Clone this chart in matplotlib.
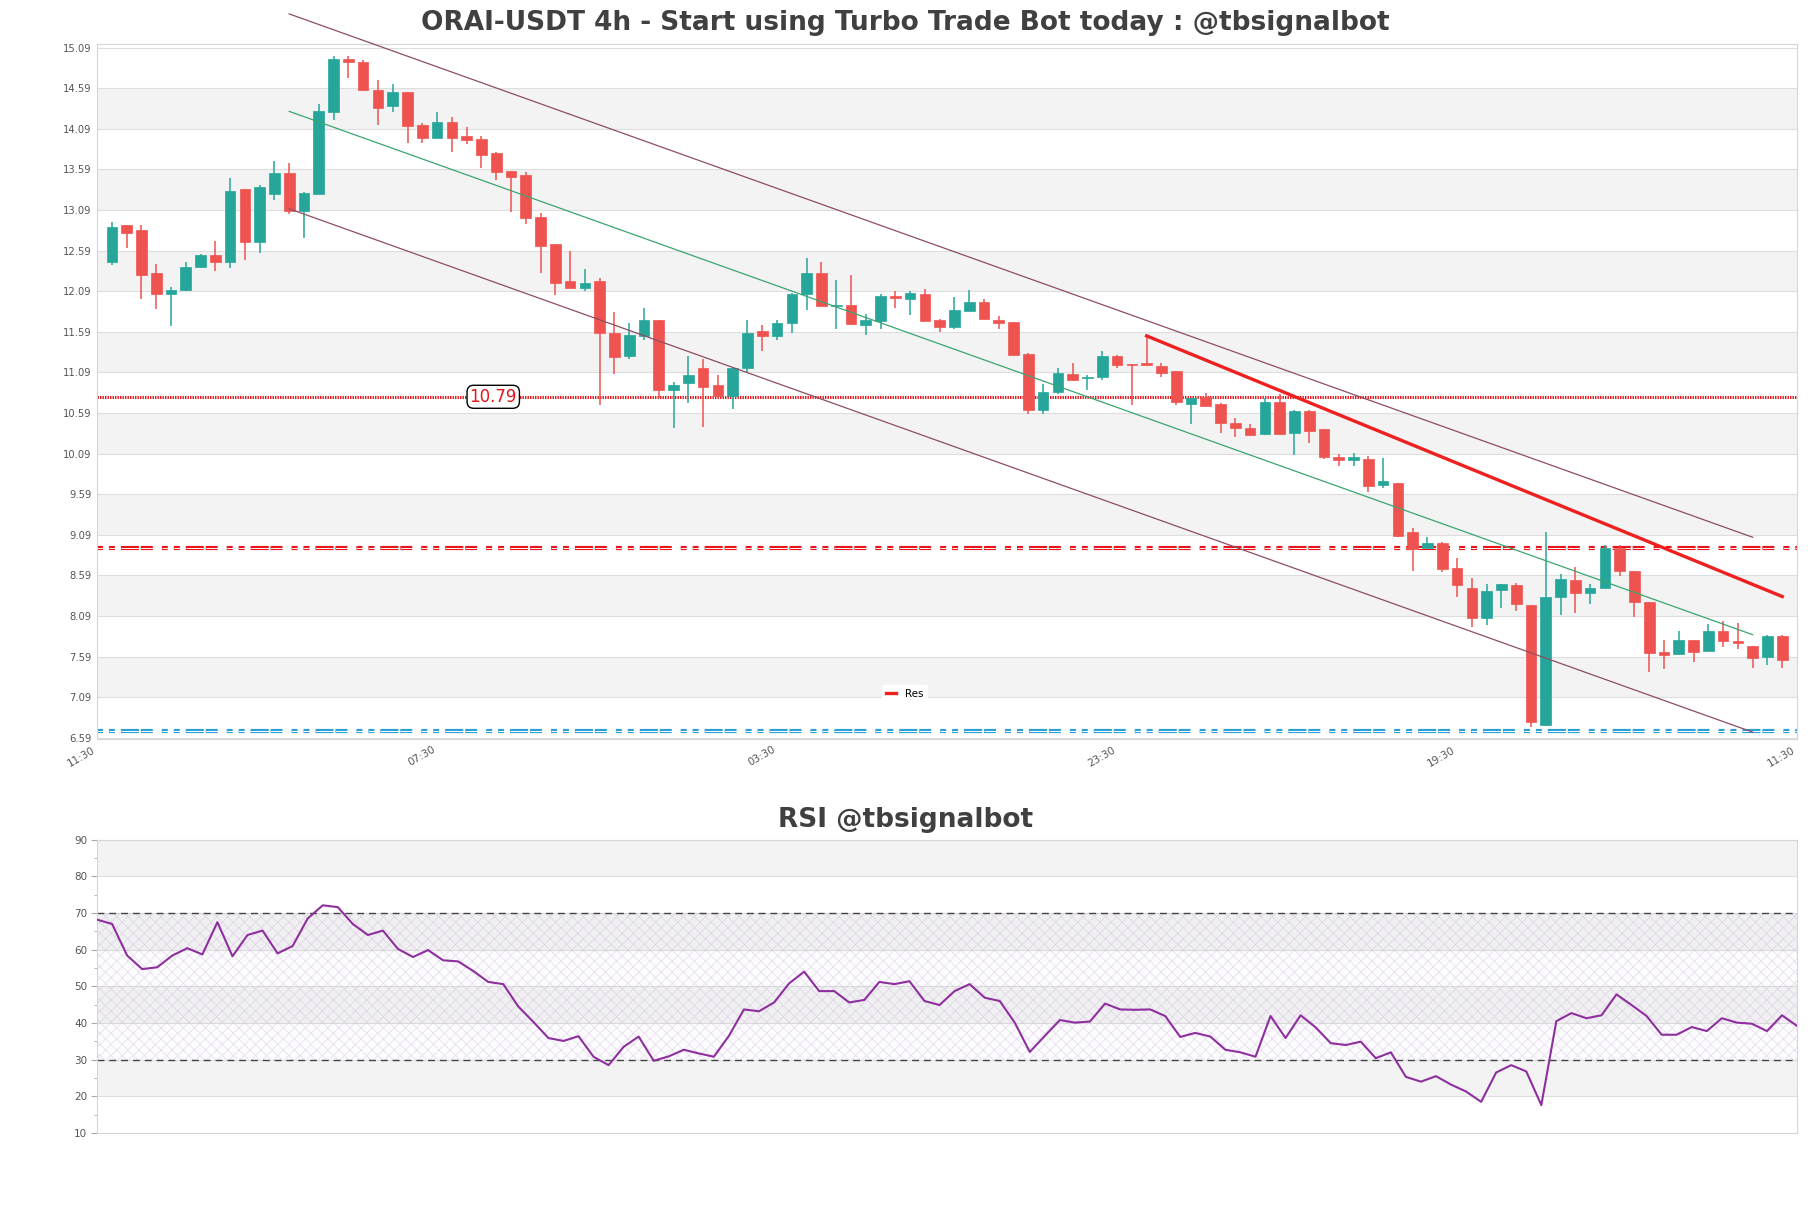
import numpy as np
import matplotlib
matplotlib.use("Agg")
import matplotlib.pyplot as plt
from matplotlib.ticker import AutoMinorLocator

plt.rcParams['lines.scale_dashes'] = False
plt.rcParams['hatch.linewidth'] = 0.5

# ---------------- data ----------------
opens = [12.45, 12.90, 12.84, 12.31, 12.06, 12.11, 12.39, 12.54, 12.45, 13.35,
         12.70, 13.29, 13.54, 13.08, 13.29, 14.30, 14.95, 14.91, 14.57, 14.37,
         14.54, 14.14, 13.98, 14.18, 14.00, 13.96, 13.79, 13.57, 13.52, 13.01,
         12.67, 12.21, 12.13, 12.22, 11.57, 11.29, 11.54, 11.74, 10.87, 10.96,
         11.15, 10.94, 10.80, 11.14, 11.60, 11.54, 11.70, 12.06, 12.32, 11.91,
         11.92, 11.68, 11.72, 12.03, 12.00, 12.05, 11.73, 11.65, 11.85, 11.96,
         11.73, 11.71, 11.32, 10.63, 10.85, 11.07, 11.02, 11.03, 11.29, 11.19,
         11.21, 11.17, 11.11, 10.70, 10.79, 10.70, 10.47, 10.40, 10.33, 10.73,
         10.34, 10.61, 10.39, 10.05, 10.01, 10.03, 9.70, 9.73, 9.12, 8.93,
         8.99, 8.68, 8.44, 8.07, 8.41, 8.47, 8.23, 6.75, 8.33, 8.53,
         8.37, 8.44, 8.93, 8.64, 8.26, 7.65, 7.62, 7.79, 7.66, 7.91,
         7.78, 7.72, 7.58, 7.84]
highs = [12.94, 12.91, 12.90, 12.42, 12.14, 12.45, 12.55, 12.71, 13.49, 13.35,
         13.40, 13.69, 13.67, 13.31, 14.40, 14.99, 14.99, 14.94, 14.69, 14.64,
         14.54, 14.16, 14.30, 14.23, 14.11, 14.00, 13.81, 13.57, 13.56, 13.05,
         12.67, 12.58, 12.36, 12.25, 11.83, 11.70, 11.88, 11.74, 10.97, 11.29,
         11.25, 11.06, 11.14, 11.73, 11.68, 11.73, 12.07, 12.50, 12.45, 12.23,
         12.29, 11.81, 12.05, 12.09, 12.09, 12.12, 11.75, 12.02, 12.10, 11.99,
         11.79, 11.71, 11.33, 10.95, 11.15, 11.21, 11.06, 11.36, 11.31, 11.19,
         11.54, 11.21, 11.11, 10.77, 10.84, 10.71, 10.53, 10.46, 10.77, 10.83,
         10.63, 10.63, 10.39, 10.08, 10.10, 10.06, 10.04, 9.73, 9.18, 9.06,
         9.00, 8.81, 8.56, 8.48, 8.49, 8.50, 8.23, 9.13, 8.61, 8.69,
         8.48, 8.97, 8.97, 8.64, 8.26, 7.80, 7.91, 7.79, 7.99, 8.03,
         8.00, 7.72, 7.86, 7.86]
lows = [12.41, 12.62, 12.00, 11.87, 11.66, 12.09, 12.38, 12.34, 12.38, 12.48,
        12.56, 13.21, 13.04, 12.75, 13.29, 14.20, 14.72, 14.56, 14.14, 14.30,
        13.92, 13.92, 13.98, 13.80, 13.90, 13.61, 13.46, 13.06, 12.92, 12.31,
        12.04, 12.13, 12.09, 10.69, 11.07, 11.25, 11.49, 10.77, 10.41, 10.71,
        10.42, 10.79, 10.64, 11.08, 11.36, 11.49, 11.57, 11.86, 11.91, 11.62,
        11.67, 11.55, 11.62, 11.88, 11.80, 11.72, 11.59, 11.63, 11.85, 11.75,
        11.63, 11.30, 10.58, 10.58, 10.83, 10.98, 10.87, 11.00, 11.15, 10.69,
        11.17, 11.03, 10.69, 10.45, 10.67, 10.35, 10.30, 10.32, 10.32, 10.32,
        10.07, 10.22, 10.03, 9.94, 9.94, 9.62, 9.67, 9.06, 8.64, 8.92,
        8.63, 8.33, 7.95, 7.98, 8.19, 8.15, 6.72, 6.74, 8.10, 8.13,
        8.24, 8.44, 8.58, 8.08, 7.40, 7.44, 7.61, 7.52, 7.66, 7.71,
        7.69, 7.45, 7.49, 7.45]
closes = [12.88, 12.81, 12.29, 12.06, 12.11, 12.39, 12.54, 12.45, 13.33, 12.70,
          13.37, 13.54, 13.08, 13.30, 14.31, 14.95, 14.91, 14.57, 14.35, 14.54,
          14.13, 13.98, 14.18, 13.98, 13.95, 13.77, 13.56, 13.50, 12.99, 12.65,
          12.19, 12.13, 12.19, 11.57, 11.28, 11.55, 11.74, 10.87, 10.94, 11.06,
          10.91, 10.80, 11.14, 11.58, 11.54, 11.70, 12.06, 12.31, 11.91, 11.92,
          11.69, 11.73, 12.03, 12.01, 12.07, 11.72, 11.65, 11.86, 11.96, 11.75,
          11.70, 11.31, 10.63, 10.85, 11.08, 11.00, 11.03, 11.29, 11.18, 11.18,
          11.18, 11.08, 10.72, 10.77, 10.68, 10.47, 10.41, 10.32, 10.73, 10.33,
          10.61, 10.37, 10.05, 10.01, 10.05, 9.69, 9.75, 9.08, 8.92, 8.99,
          8.67, 8.47, 8.06, 8.40, 8.48, 8.24, 6.78, 8.33, 8.54, 8.37,
          8.44, 8.93, 8.64, 8.26, 7.64, 7.61, 7.79, 7.65, 7.91, 7.78,
          7.76, 7.57, 7.84, 7.55]

rsi = [68.2, 67.0, 58.4, 54.7, 55.2, 58.4, 60.4, 58.7, 67.5, 58.2,
       64.0, 65.2, 59.0, 61.0, 68.5, 72.1, 71.6, 67.0, 64.0, 65.2,
       60.2, 58.0, 59.9, 57.1, 56.8, 54.2, 51.2, 50.6, 44.5, 40.3,
       35.9, 35.1, 36.4, 30.8, 28.5, 33.5, 36.3, 29.7, 30.9, 32.7,
       31.7, 30.8, 36.5, 43.7, 43.2, 45.6, 50.8, 54.0, 48.7, 48.7,
       45.6, 46.3, 51.2, 50.6, 51.4, 46.0, 44.9, 48.7, 50.6, 46.9,
       46.0, 40.1, 32.1, 36.5, 40.8, 40.1, 40.4, 45.3, 43.7, 43.6,
       43.7, 41.9, 36.2, 37.3, 36.3, 32.7, 32.0, 30.8, 41.9, 35.9,
       42.1, 38.8, 34.5, 34.0, 34.9, 30.4, 32.0, 25.3, 24.0, 25.5,
       23.2, 21.3, 18.5, 26.5, 28.5, 26.8, 17.6, 40.5, 42.7, 41.3,
       42.1, 47.8, 44.9, 41.9, 36.8, 36.8, 38.9, 37.8, 41.3, 40.1,
       39.8, 37.8, 42.1, 39.2]

time_labels = ['11:30', '07:30', '03:30', '23:30', '19:30', '11:30']
time_ticks = [-1, 22, 45, 68, 91, 114]

res_level = 10.79
red_band_level = 8.93
blue_band_level = 6.675

channel_x = [12, 111]
channel_mid = [14.305, 7.86]
channel_width = 1.2
res_line_x = [70, 113]
res_line_y = [11.54, 8.33]

price_ticks = [6.59, 7.09, 7.59, 8.09, 8.59, 9.09, 9.59, 10.09, 10.59, 11.09,
               11.59, 12.09, 12.59, 13.09, 13.59, 14.09, 14.59, 15.09]
rsi_ticks = [10, 20, 30, 40, 50, 60, 70, 80, 90]

# ---------------- figure ----------------
UP = '#26a69a'
DN = '#ef5350'
GRID = '#dedede'
BAND = '#f3f3f3'
TXT = '#555555'

fig = plt.figure(figsize=(18.11, 12.08), dpi=100)
ax = fig.add_axes([0.0536, 0.3882, 0.9387, 0.5754])
ax2 = fig.add_axes([0.0536, 0.0621, 0.9387, 0.2428])

# main panel background bands
for k in range(len(price_ticks) - 1):
    if (len(price_ticks) - 2 - k) % 2 == 1:
        ax.axhspan(price_ticks[k], price_ticks[k + 1], color=BAND, zorder=0, lw=0)
for t in price_ticks:
    ax.axhline(t, color=GRID, lw=0.8, zorder=0.5)

# candles
x = np.arange(len(opens))
o = np.array(opens); c = np.array(closes); h = np.array(highs); l = np.array(lows)
up = c >= o
cols = np.where(up, UP, DN)
ax.vlines(x, l, h, colors=cols, lw=1.1, zorder=3)
bottoms = np.minimum(o, c)
heights = np.maximum(np.abs(c - o), 0.012)
ax.bar(x, heights, bottom=bottoms, width=0.72, color=cols, edgecolor=cols, lw=0.5, zorder=4)

# horizontal levels
ax.axhline(res_level, color='#e3161b', lw=2.2, linestyle=(0, (1.0, 0.8)), zorder=2)
dash = (0, (4.3, 4.3, 4.3, 4.3, 13, 1.4, 8.6, 6.5))
ax.axhline(red_band_level, color='#e8141a', lw=3.0, linestyle=dash, zorder=2)
ax.axhline(red_band_level, color='white', lw=0.7, linestyle=dash, zorder=2.1)
ax.axhline(blue_band_level, color='#2a9fd8', lw=3.0, linestyle=dash, zorder=2)
ax.axhline(blue_band_level, color='white', lw=0.7, linestyle=dash, zorder=2.1)

ax.text(25.8, res_level, '10.79', color='#e3161b', fontsize=12, ha='center', va='center',
        zorder=6, bbox=dict(boxstyle='round,pad=0.15,rounding_size=0.4', fc='white', ec='black', lw=1))

# channel
mid = np.array(channel_mid)
ax.plot(channel_x, mid + channel_width, color='#8d4d62', lw=0.9, zorder=5, clip_on=False)
ax.plot(channel_x, mid, color='#3aa56f', lw=0.9, zorder=5)
ax.plot(channel_x, mid - channel_width, color='#8d4d62', lw=0.9, zorder=5)

# resistance line
ax.plot(res_line_x, res_line_y, color='#ee2020', lw=2.4, zorder=5, label='Res')

leg = ax.legend(loc='center', bbox_to_anchor=(0.475, 0.065), fontsize=7.5, frameon=True,
                handlelength=1.0, borderpad=0.4, handletextpad=0.8)
leg.get_frame().set_edgecolor('white')
leg.get_frame().set_alpha(1)

ax.set_xlim(-1, 114)
ax.set_ylim(6.575, 15.135)
ax.set_yticks(price_ticks)
ax.set_yticklabels(['%.2f' % t for t in price_ticks], fontsize=7.2, color=TXT)
ax.set_xticks(time_ticks)
ax.set_xticklabels(time_labels, rotation=30, ha='right', fontsize=7.5, color=TXT)
ax.tick_params(axis='both', length=0, pad=4)
for s in ax.spines.values():
    s.set_color('#d6d6d6'); s.set_linewidth(0.8)

fig.text(0.5, 1 - 23 / 1208, 'ORAI-USDT 4h - Start using Turbo Trade Bot today : @tbsignalbot',
         ha='center', va='center', fontsize=19, fontweight='bold', color='#404040')

# ---------------- RSI panel ----------------
for lo in (80, 60, 40, 20):
    ax2.axhspan(lo, lo + 10, color=BAND, zorder=0, lw=0)
for t in rsi_ticks:
    ax2.axhline(t, color=GRID, lw=0.8, zorder=0.5)
xr = np.arange(len(rsi))
ax2.fill_between([0, len(rsi) - 1], 30, 70, facecolor=(0.55, 0.4, 0.7, 0.025),
                 edgecolor=(0.78, 0.70, 0.84, 0.45), hatch='xxx', lw=0, zorder=1)
ax2.axhline(70, color='#444444', lw=1.0, linestyle=(0, (5, 3.5)), zorder=2)
ax2.axhline(30, color='#444444', lw=1.0, linestyle=(0, (5, 3.5)), zorder=2)
ax2.plot(xr, rsi, color='#8e2f9e', lw=1.5, zorder=3)

ax2.set_xlim(0, len(rsi) - 1)
ax2.set_ylim(10, 90)
ax2.set_yticks(rsi_ticks)
ax2.set_yticklabels([str(t) for t in rsi_ticks], fontsize=7.5, color=TXT)
ax2.yaxis.set_minor_locator(AutoMinorLocator(2))
ax2.set_xticks([])
ax2.tick_params(axis='y', which='major', length=4, color='#aaaaaa', pad=3)
ax2.tick_params(axis='y', which='minor', length=2.5, color='#aaaaaa')
for s in ax2.spines.values():
    s.set_color('#d6d6d6'); s.set_linewidth(0.8)

fig.text(0.5, 1 - 820 / 1208, 'RSI @tbsignalbot', ha='center', va='center',
         fontsize=19, fontweight='bold', color='#404040')

fig.savefig('out.png', dpi=100, facecolor='white')
